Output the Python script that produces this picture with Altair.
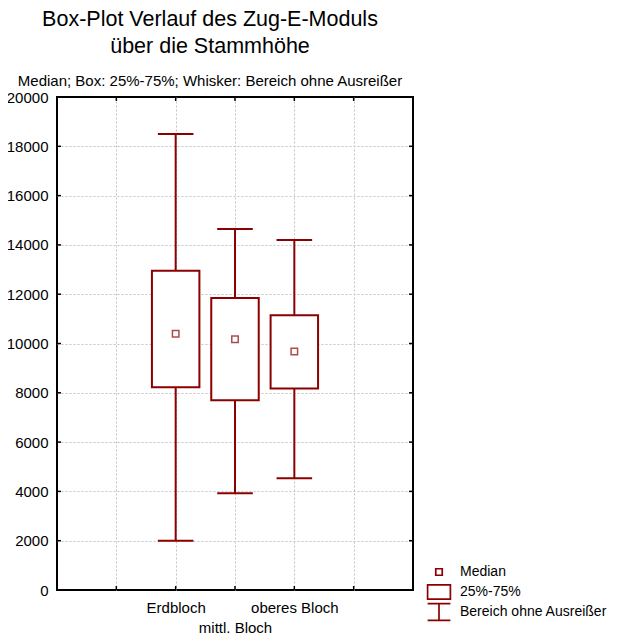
import altair as alt
import pandas as pd

categories = ["Erdbloch", "mittl. Bloch", "oberes Bloch"]
positions = [2, 3, 4]
whisker_low = [2000, 3930, 4530]
q1 = [8230, 7700, 8170]
median = [10400, 10170, 9680]
q3 = [12950, 11850, 11150]
whisker_high = [18500, 14650, 14200]

y_ticks = list(range(0, 20001, 2000))
x_ticks = [1, 2, 3, 4, 5]
legend_labels = ["Median", "25%-75%", "Bereich ohne Ausreißer"]

RED = "#8b0000"
W, H = 356, 493
FONT = "Liberation Sans"

df = pd.DataFrame({
    "cat": categories, "pos": positions, "lo": whisker_low, "q1": q1,
    "med": median, "q3": q3, "hi": whisker_high,
    "kind": ["Median"] * 3,
})
df_y = pd.DataFrame({"v": y_ticks})
df_x = pd.DataFrame({"v": x_ticks})

parts = []
for i, (p, c) in enumerate(zip(positions, categories)):
    if i % 2 == 1:
        parts.append(f"datum.value == {p} ? ['', '{c}']")
    else:
        parts.append(f"datum.value == {p} ? '{c}'")
label_expr = " : ".join(parts) + " : ''"

xscale = alt.Scale(domain=[0, 6], nice=False, zero=False)
yscale = alt.Scale(domain=[0, 20000], nice=False)

x_axis = alt.Axis(values=x_ticks, labelExpr=label_expr, title=None, domain=False,
                  ticks=False, tickSize=0, labelFontSize=15, labelFont=FONT,
                  labelColor="black", labelBaseline="alphabetic", labelPadding=22,
                  labelLineHeight=20, labelFlush=False, labelOverlap=False,
                  grid=True, gridColor="#c4c4c4", gridDash=[2, 2], gridWidth=1)
y_axis = alt.Axis(values=y_ticks, title=None, domain=False, ticks=False, tickSize=0,
                  labelFontSize=15, labelFont=FONT, labelColor="black",
                  labelPadding=9, format="d", labelOverlap=False,
                  grid=True, gridDash=[2, 2], gridWidth=1,
                  gridOpacity=alt.condition("datum.value == 0 || datum.value == 20000",
                                            alt.value(0), alt.value(1)),
                  gridColor="#c4c4c4")

base = alt.Chart(df)

whisk_low = base.mark_rule(color=RED, strokeWidth=2).encode(
    x=alt.X("pos:Q", scale=xscale, axis=x_axis),
    y=alt.Y("lo:Q", scale=yscale, axis=y_axis),
    y2="q1:Q")
whisk_high = base.mark_rule(color=RED, strokeWidth=2).encode(
    x="pos:Q", y="q3:Q", y2="hi:Q")

cap_lo = base.transform_calculate(a="datum.pos - 0.3", b="datum.pos + 0.3").mark_rule(
    color=RED, strokeWidth=2).encode(x="a:Q", x2="b:Q", y="lo:Q")
cap_hi = base.transform_calculate(a="datum.pos - 0.3", b="datum.pos + 0.3").mark_rule(
    color=RED, strokeWidth=2).encode(x="a:Q", x2="b:Q", y="hi:Q")

box = base.transform_calculate(a="datum.pos - 0.4", b="datum.pos + 0.4").mark_rect(
    fill="white", stroke=RED, strokeWidth=2).encode(
    x="a:Q", x2="b:Q", y="q1:Q", y2="q3:Q")

shape_range = [
    "M-0.27,-0.27H0.27V0.27H-0.27Z",
    "M-0.95,-0.6H0.95V0.6H-0.95Z",
    "M-0.95,-0.7H0.95M0,-0.7V0.7M-0.95,0.7H0.95",
]
med_pts = base.mark_point(filled=False, stroke=RED, strokeWidth=1.5, size=576).encode(
    x="pos:Q", y="med:Q",
    shape=alt.Shape("kind:N",
                    scale=alt.Scale(domain=legend_labels, range=shape_range),
                    legend=alt.Legend(title=None, orient="none", legendX=369, legendY=465,
                                      padding=0, symbolSize=576, rowPadding=0,
                                      clipHeight=20,
                                      symbolStrokeColor=RED, symbolStrokeWidth=1.7,
                                      symbolOpacity=1, symbolType="square",
                                      labelOffset=8,
                                      labelFontSize=14, labelFont=FONT,
                                      labelColor="black", labelLimit=300)),
)

tick_color = "black"
t_bottom = alt.Chart(df_x).mark_rule(color=tick_color, strokeWidth=1.5).encode(
    x="v:Q", y=alt.value(H), y2=alt.value(H - 4))
t_top = alt.Chart(df_x).mark_rule(color=tick_color, strokeWidth=1.5).encode(
    x="v:Q", y=alt.value(0), y2=alt.value(4))
t_left = alt.Chart(df_y).mark_rule(color=tick_color, strokeWidth=1.5).encode(
    y="v:Q", x=alt.value(0), x2=alt.value(4))
t_right = alt.Chart(df_y).mark_rule(color=tick_color, strokeWidth=1.5).encode(
    y="v:Q", x=alt.value(W), x2=alt.value(W - 4))

chart = alt.layer(
    whisk_low, whisk_high, cap_lo, cap_hi, box, med_pts,
    t_bottom, t_top, t_left, t_right,
).properties(
    width=W, height=H,
    title=alt.TitleParams(
        text=["Box-Plot Verlauf des Zug-E-Moduls", "über die Stammhöhe"],
        subtitle="Median; Box: 25%-75%; Whisker: Bereich ohne Ausreißer",
        anchor="middle", dx=-25, fontSize=21.5, font=FONT, fontWeight="normal",
        lineHeight=27, color="black",
        subtitleFontSize=15, subtitleFont=FONT, subtitleColor="black",
        subtitlePadding=17, offset=1,
    ),
    autosize=alt.AutoSizeParams(type="none"),
    padding={"left": 49, "top": 89, "right": 198, "bottom": 50},
).configure_view(
    stroke="black", strokeWidth=2
)

chart.save("out.html", embed_options={"renderer": "svg", "actions": False})
